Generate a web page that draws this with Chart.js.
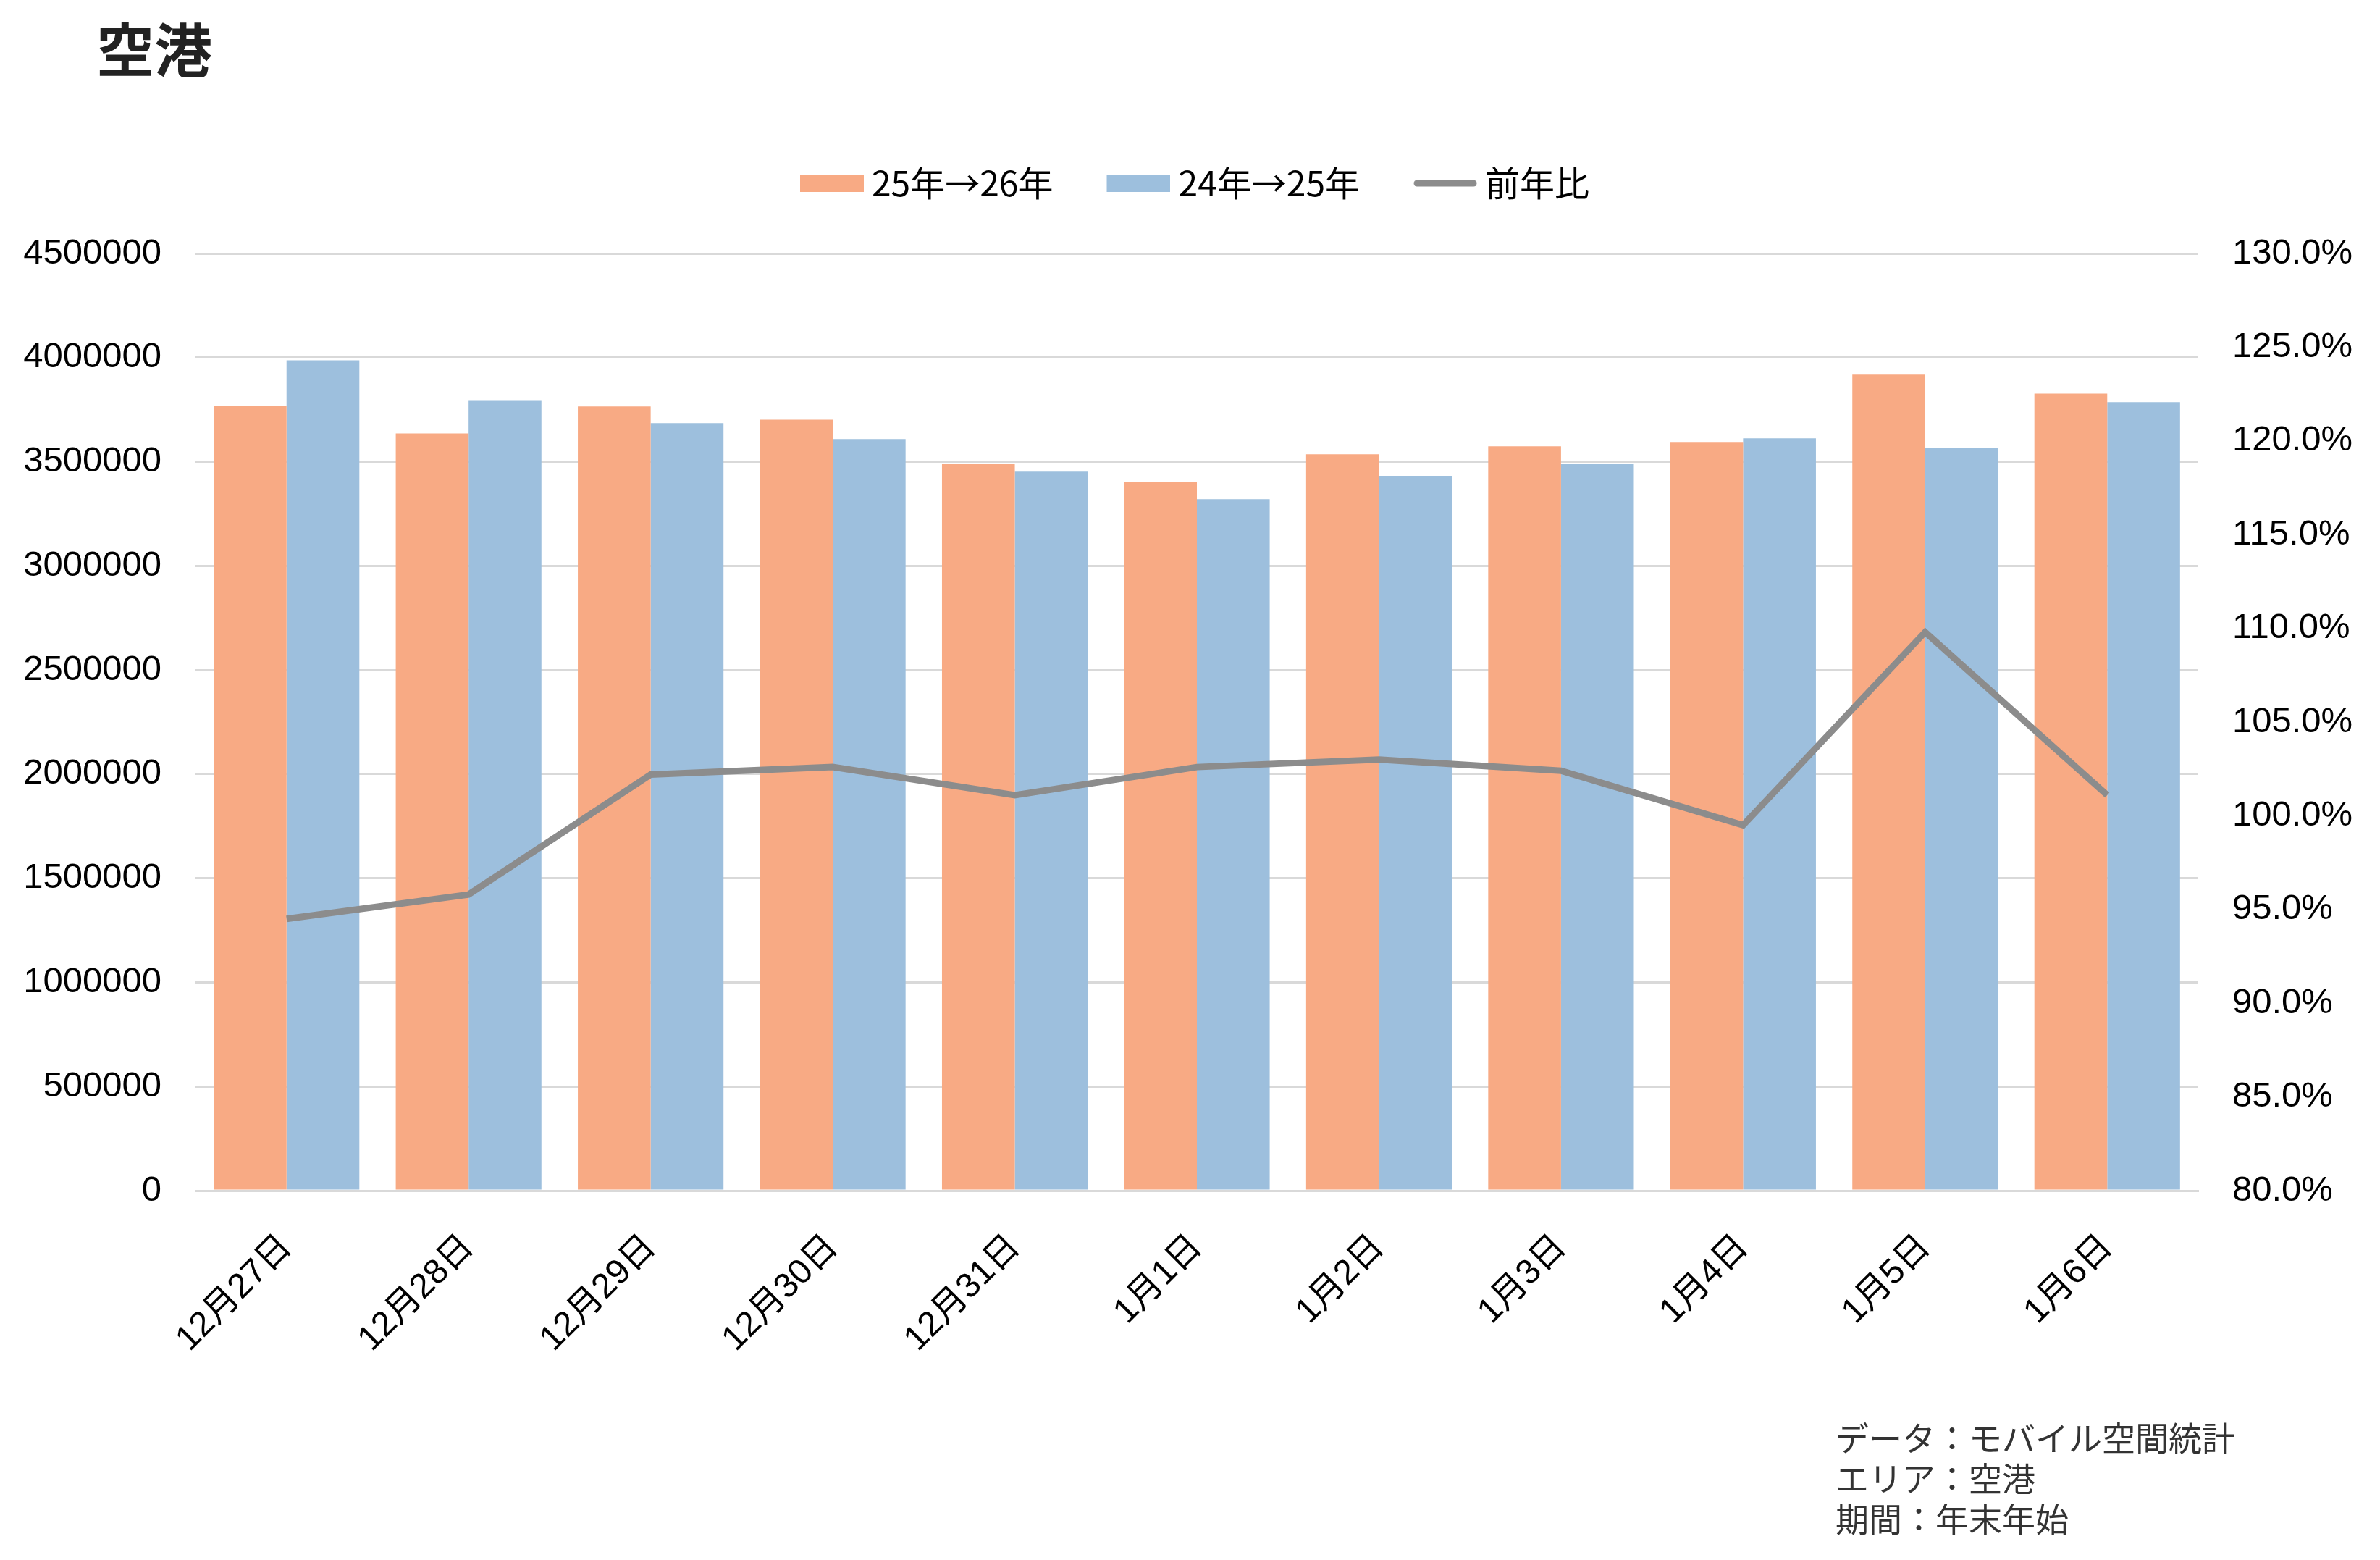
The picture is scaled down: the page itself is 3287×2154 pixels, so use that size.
<!DOCTYPE html>
<html lang="ja">
<head>
<meta charset="utf-8">
<title>空港</title>
<script src="https://cdn.jsdelivr.net/npm/chart.js@4.4.1/dist/chart.umd.min.js"></script>
<style>
  html, body { margin: 0; padding: 0; background: #fff; }
  #wrap { position: relative; width: 3287px; height: 2154px; }
  #chart { position: absolute; left: 0; top: 0; }
  #title { position: absolute; left: 133px; top: 24px; font: bold 80px "Noto Sans CJK JP", sans-serif; color: #222; line-height: 1; }
  #note { position: absolute; left: 2535px; top: 1955px; font: 46px "Noto Sans CJK JP", sans-serif; line-height: 56px; color: #333; }
</style>
</head>
<body>
<div id="wrap">
  <canvas id="chart" width="3287" height="2154"></canvas>
  <div id="title">空港</div>
  <div id="note">データ：モバイル空間統計<br>エリア：空港<br>期間：年末年始</div>
</div>
<script>
// 日付
const categories = ['12月27日', '12月28日', '12月29日', '12月30日', '12月31日', '1月1日', '1月2日', '1月3日', '1月4日', '1月5日', '1月6日'];
// 25年→26年
const current = [3768000, 3636000, 3765000, 3702000, 3491000, 3404000, 3536000, 3574000, 3595000, 3918000, 3827000];
// 24年→25年
const previous = [3987000, 3796000, 3685000, 3609000, 3452000, 3320000, 3432000, 3491000, 3612000, 3567000, 3786000];
// 前年比 (%)
const yoy = [94.5, 95.8, 102.2, 102.6, 101.1, 102.6, 103.0, 102.4, 99.5, 109.8, 101.1];

const seriesNames = ['25年→26年', '24年→25年', '前年比'];
const leftTicks = { min: 0, max: 4500000, step: 500000 };
const rightTicks = { min: 80, max: 130, step: 5 };

const ORANGE = '#F8AA84';
const BLUE = '#9DBFDD';
const GREY = '#8C8C8C';
const GRID = '#D9D9D9';
const FONT = "'Liberation Sans', 'Noto Sans CJK JP', sans-serif";

// 凡例のマーク (左に余白を入れて文字との間を詰める)
function makeSwatch(color, isLine) {
    const c = document.createElement('canvas');
    c.width = 114;
    c.height = 24;
    const g = c.getContext('2d');
    if (isLine) {
        g.strokeStyle = color;
        g.lineWidth = 9;
        g.lineCap = 'round';
        g.beginPath();
        g.moveTo(31, 12);
        g.lineTo(109, 12);
        g.stroke();
    } else {
        g.fillStyle = color;
        g.fillRect(26, 0, 88, 24);
    }
    return c;
}
const swatches = [makeSwatch(ORANGE, false), makeSwatch(BLUE, false), makeSwatch(GREY, true)];

// 凡例とグラフの間をあける
const legendGap = {
    id: 'legendGap',
    beforeInit(chart) {
        const fit = chart.legend.fit;
        chart.legend.fit = function() {
            fit.call(this);
            this.height += 63;
        };
    }
};

const ctx = document.getElementById('chart').getContext('2d');
const chart = new Chart(ctx, {
    type: 'bar',
    data: {
        labels: categories,
        datasets: [{
            label: seriesNames[0],
            data: current,
            backgroundColor: ORANGE,
            yAxisID: 'y',
            order: 2,
            categoryPercentage: 0.8,
            barPercentage: 1.0
        }, {
            label: seriesNames[1],
            data: previous,
            backgroundColor: BLUE,
            yAxisID: 'y',
            order: 2,
            categoryPercentage: 0.8,
            barPercentage: 1.0
        }, {
            type: 'line',
            label: seriesNames[2],
            data: yoy,
            borderColor: GREY,
            backgroundColor: GREY,
            borderWidth: 9,
            pointRadius: 0,
            tension: 0,
            yAxisID: 'y1',
            order: 1
        }]
    },
    options: {
        responsive: false,
        animation: false,
        devicePixelRatio: 1,
        layout: { padding: { top: 168, left: 0, right: 0, bottom: 0 } },
        plugins: {
            title: { display: false },
            tooltip: { enabled: false },
            legend: {
                position: 'top',
                labels: {
                    font: { family: "'Noto Sans CJK JP', sans-serif", size: 48 },
                    color: '#000',
                    usePointStyle: true,
                    pointStyleWidth: 88,
                    boxHeight: 24,
                    padding: 61,
                    sort: (a, b) => a.datasetIndex - b.datasetIndex,
                    generateLabels: function(chart) {
                        const items = Chart.defaults.plugins.legend.labels.generateLabels(chart);
                        items.forEach(item => { item.pointStyle = swatches[item.datasetIndex]; });
                        return items;
                    }
                }
            }
        },
        scales: {
            x: {
                grid: { display: false, drawTicks: false },
                border: { color: GRID, width: 3 },
                ticks: {
                    font: { family: FONT, size: 48 },
                    color: '#000',
                    minRotation: 45,
                    maxRotation: 45,
                    padding: 50
                },
                afterFit: function(s) { s.height = 510; }
            },
            y: {
                position: 'left',
                min: leftTicks.min,
                max: leftTicks.max,
                grid: { color: GRID, lineWidth: 3, drawTicks: false },
                border: { display: false },
                ticks: {
                    stepSize: leftTicks.step,
                    font: { family: FONT, size: 49 },
                    color: '#000',
                    padding: 47,
                    callback: v => String(v)
                },
                afterFit: function(s) { s.width = 270; }
            },
            y1: {
                position: 'right',
                min: rightTicks.min,
                max: rightTicks.max,
                grid: { drawOnChartArea: false, drawTicks: false },
                border: { display: false },
                ticks: {
                    stepSize: rightTicks.step,
                    font: { family: FONT, size: 49 },
                    color: '#000',
                    padding: 47,
                    callback: v => v.toFixed(1) + '%'
                },
                afterFit: function(s) { s.width = 251; }
            }
        }
    },
    plugins: [legendGap]
});
</script>
</body>
</html>
